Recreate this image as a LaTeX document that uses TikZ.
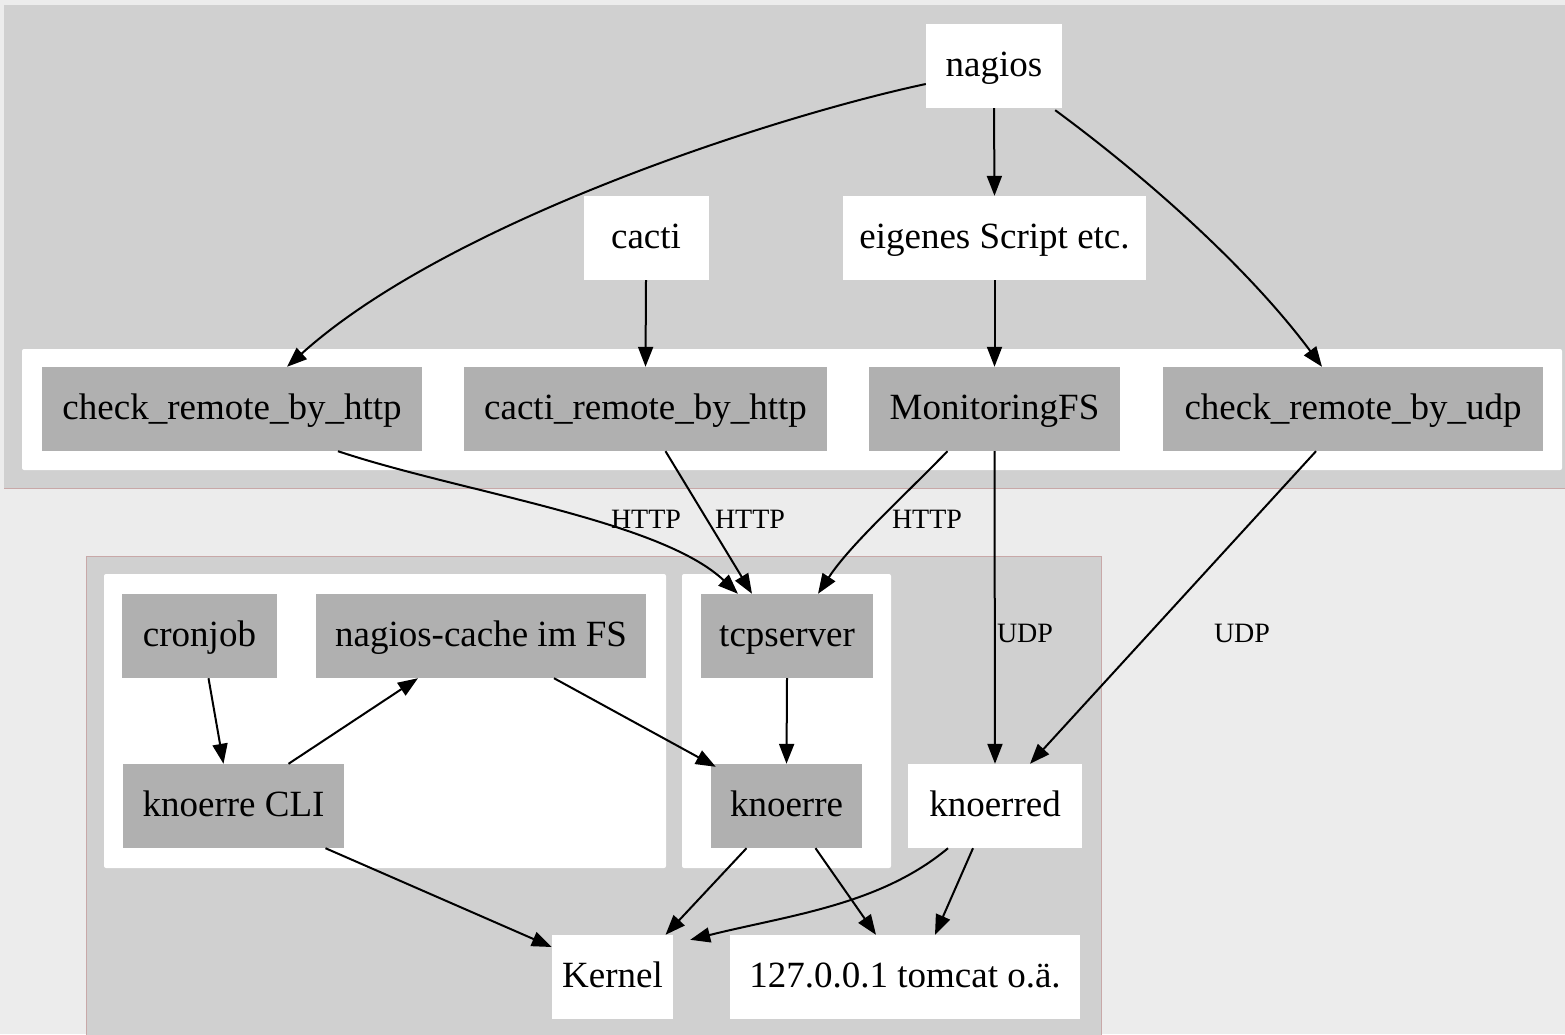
\documentclass[tikz,border=0pt]{standalone}
\usepackage{fontspec}
\setmainfont{Liberation Serif}
\usetikzlibrary{arrows.meta,calc}

\definecolor{bggray}{RGB}{236,236,236}
\definecolor{clgray}{RGB}{208,208,208}
\definecolor{ndgray}{RGB}{176,176,176}
\definecolor{clline}{RGB}{200,168,168}

\begin{document}
\begin{tikzpicture}[x=1pt,y=-1pt,
    box/.style={minimum height=84pt, inner sep=0pt, text height=27pt, text depth=7pt,
        fill=white, font=\fontsize{37}{44}\selectfont},
    gbox/.style={box, fill=ndgray},
    edge/.style={line width=2pt, -{Triangle[length=20pt,width=15pt]}},
    lbl/.style={inner sep=0pt, font=\fontsize{28}{32}\selectfont}]

\fill[bggray] (0,0) rectangle (1565,1034);
\useasboundingbox (0,0) rectangle (1565,1034);

% clusters
\fill[clgray] (4,5) rectangle (1565,488);
\draw[clline, line width=1pt] (4,488) -- (1565,488);
\fill[white, rounded corners=2pt] (22,349) rectangle (1562,470);

\filldraw[fill=clgray, draw=clline, line width=1pt] (86,556) rectangle (1101,1040);
\fill[white, rounded corners=2pt] (104,574) rectangle (666,868);
\fill[white, rounded corners=2pt] (682,574) rectangle (891,868);

% nodes
\node[box, minimum width=136pt] (nagios) at (994,66) {nagios};
\node[box, minimum width=125pt] (cacti) at (646,238) {cacti};
\node[box, minimum width=303pt] (eigenes) at (994.5,238) {eigenes Script etc.};

\node[gbox, minimum width=380pt] (crh) at (232,409) {check\_remote\_by\_http};
\node[gbox, minimum width=363pt] (crbh) at (645.5,409) {cacti\_remote\_by\_http};
\node[gbox, minimum width=251pt] (mfs) at (994.5,409) {MonitoringFS};
\node[gbox, minimum width=380pt] (udp) at (1353,409) {check\_remote\_by\_udp};

\node[gbox, minimum width=155pt] (cron) at (199.5,636) {cronjob};
\node[gbox, minimum width=330pt] (cache) at (481,636) {nagios-cache im FS};
\node[gbox, minimum width=172pt] (tcp) at (787,636) {tcpserver};
\node[gbox, minimum width=221pt] (cli) at (233.5,806) {knoerre CLI};
\node[gbox, minimum width=151pt] (knoerre) at (786.5,806) {knoerre};
\node[box, minimum width=174pt] (knoerred) at (995,806) {knoerred};
\node[box, minimum width=121pt] (kernel) at (612.5,977) {Kernel};
\node[box, minimum width=350pt] (tomcat) at (905,977) {127.0.0.1 tomcat o.ä.};

% edge labels
\node[lbl] (http1) at (646,519) {HTTP};
\node[lbl] (http2) at (750,519) {HTTP};
\node[lbl] (http3) at (927,519) {HTTP};
\node[lbl] (udp1) at (1025,633) {UDP};
\node[lbl] (udp2) at (1242,633) {UDP};

% edges
\draw[edge] ($(nagios.west)+(0,18)$) .. controls (780,115) and (450,220) .. ($(crh.north)+(55,0)$);
\draw[edge] (nagios.south) -- (eigenes.north);
\draw[edge] ($(nagios.south east)+(-7,2)$) .. controls (1150,180) and (1250,270) .. ($(udp.north)+(-31,0)$);
\draw[edge] (cacti.south) -- (crbh.north);
\draw[edge] (eigenes.south) -- (mfs.north);

\draw[edge] ($(crh.south)+(106,0)$) .. controls (460,492) and (660,520) .. ($(tcp.north)+(-49,0)$);
\draw[edge] ($(crbh.south)+(20,0)$) -- ($(tcp.north)+(-35,0)$);
\draw[edge] ($(mfs.south)+(-47,0)$) .. controls (900,500) and (850,545) .. ($(tcp.north)+(31,0)$);
\draw[edge] (mfs.south) -- (knoerred.north);
\draw[edge] ($(udp.south)+(-37,0)$) -- ($(knoerred.north)+(35,0)$);

\draw[edge] ($(cron.south)+(9,0)$) -- ($(cli.north)+(-10,0)$);
\draw[edge] ($(cli.north)+(55,0)$) -- ($(cache.south)+(-63,0)$);
\draw[edge] ($(cache.south)+(73,0)$) -- ($(knoerre.north west)+(5,3)$);
\draw[edge] (tcp.south) -- (knoerre.north);

\draw[edge] ($(cli.south)+(92,0)$) -- ($(kernel.west)+(0,-30)$);
\draw[edge] ($(knoerre.south)+(-40,0)$) -- ($(kernel.north)+(53,0)$);
\draw[edge] ($(knoerre.south)+(29,0)$) -- ($(tomcat.north)+(-29,0)$);
\draw[edge] ($(knoerred.south)+(-47,0)$) .. controls (880,905) and (790,915) .. ($(kernel.north east)+(17,5)$);
\draw[edge] ($(knoerred.south)+(-22,0)$) -- ($(tomcat.north)+(30,0)$);

\end{tikzpicture}
\end{document}
